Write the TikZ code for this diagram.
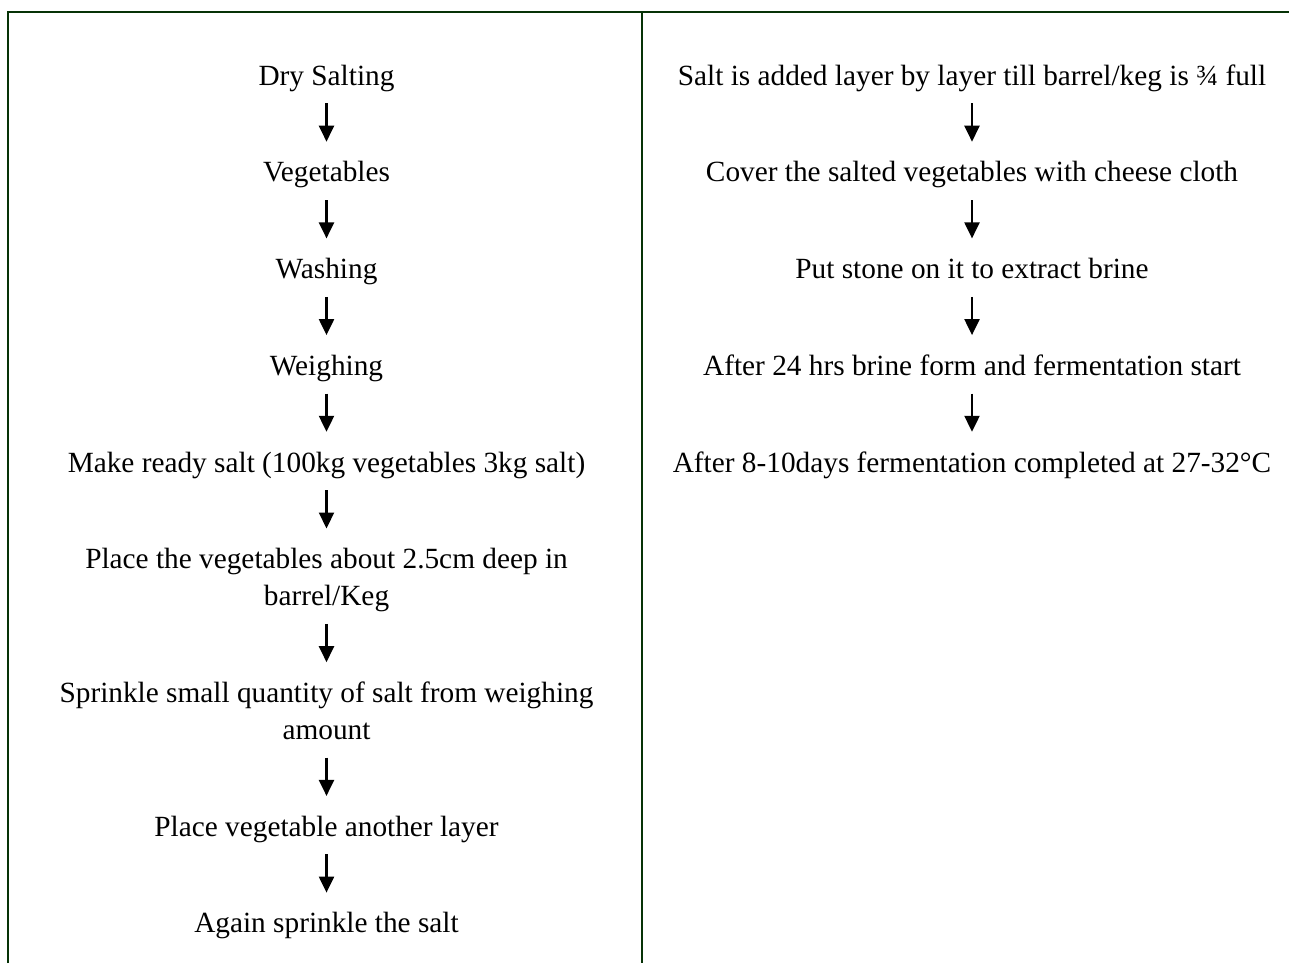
\documentclass[tikz,border=0pt]{standalone}
\usepackage{fontspec}
\setmainfont{Liberation Serif}
\usetikzlibrary{arrows.meta}
\definecolor{frame}{RGB}{6,50,6}
\newcommand{\stt}{\rule[-8pt]{0pt}{30pt}}
\begin{document}
\begin{tikzpicture}[x=1pt,y=-1pt,
  stepbox/.style={anchor=north,inner sep=0pt,align=center,
    font=\fontsize{29.3pt}{37pt}\selectfont},
  flow/.style={-{Triangle[width=15pt,length=16pt]},line width=2.2pt,
    shorten <=10pt,shorten >=18pt},
  rulel/.style={draw=frame,line width=2.6pt}]
\useasboundingbox (0,0) rectangle (1289,963);
% frame
\draw[rulel] (8,963) -- (8,12) -- (1289,12);
\draw[rulel] (642,12) -- (642,963);
% left column
\node[stepbox] (l1) at (326.5,63) {\stt Dry Salting};
\node[stepbox] (l2) at (326.5,159.7) {\stt Vegetables};
\node[stepbox] (l3) at (326.5,256.4) {\stt Washing};
\node[stepbox] (l4) at (326.5,353.1) {\stt Weighing};
\node[stepbox] (l5) at (326.5,449.8) {\stt Make ready salt (100kg vegetables 3kg salt)};
\node[stepbox] (l6) at (326.5,546.5) {\stt Place the vegetables about 2.5cm deep in\\\stt barrel/Keg};
\node[stepbox] (l7) at (326.5,680.2) {\stt Sprinkle small quantity of salt from weighing\\\stt amount};
\node[stepbox] (l8) at (326.5,813.9) {\stt Place vegetable another layer};
\node[stepbox] (l9) at (326.5,910.6) {\stt Again sprinkle the salt};
% right column
\node[stepbox] (r1) at (972,63) {\stt Salt is added layer by layer till barrel/keg is ¾ full};
\node[stepbox] (r2) at (972,159.7) {\stt Cover the salted vegetables with cheese cloth};
\node[stepbox] (r3) at (972,256.4) {\stt Put stone on it to extract brine};
\node[stepbox] (r4) at (972,353.1) {\stt After 24 hrs brine form and fermentation start};
\node[stepbox] (r5) at (972,449.8) {\stt After 8-10days fermentation completed at 27-32°C};
% connectors
\foreach \a/\b in {l1/l2,l2/l3,l3/l4,l4/l5,l5/l6,l6/l7,l7/l8,l8/l9,r1/r2,r2/r3,r3/r4,r4/r5}
  \draw[flow] (\a.south) -- (\b.north);
\end{tikzpicture}
\end{document}
